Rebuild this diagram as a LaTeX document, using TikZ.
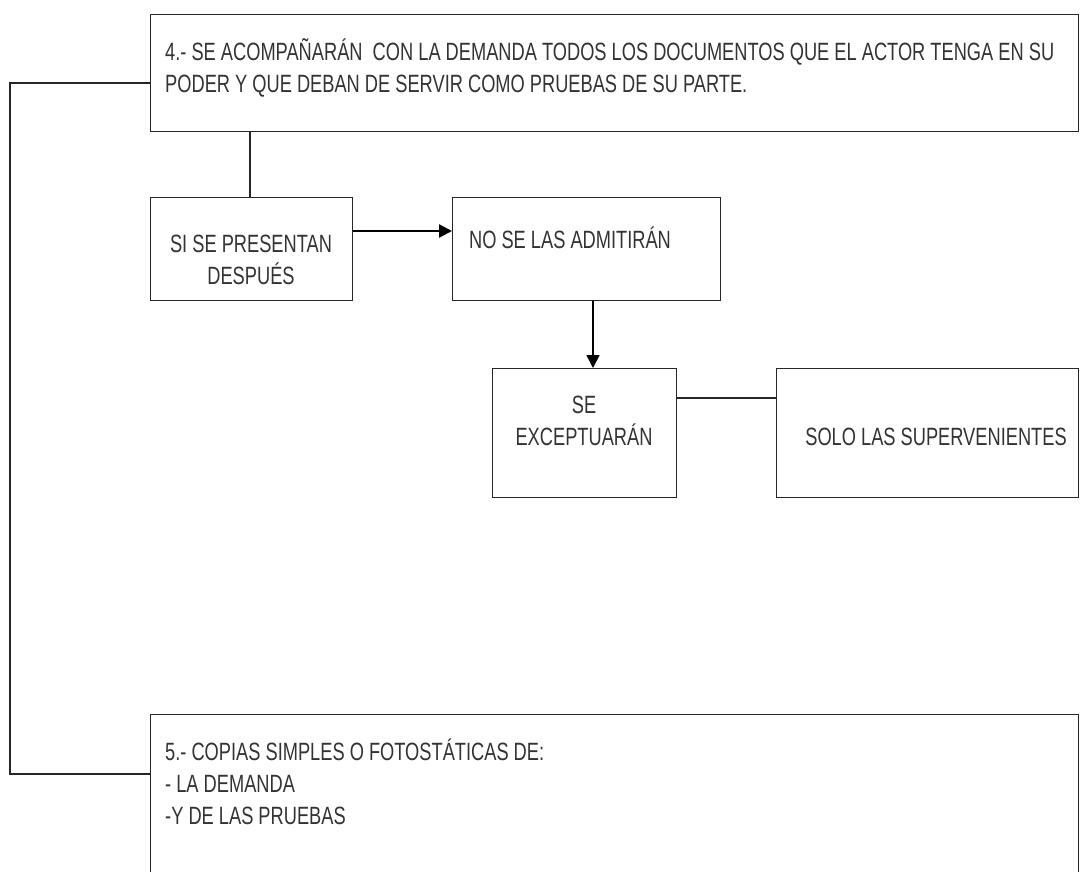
\documentclass[tikz,border=0pt]{standalone}
\usepackage{fontspec}
\setmainfont[FakeStretch=0.73]{Liberation Sans}
\usetikzlibrary{arrows.meta}
\begin{document}
\begin{tikzpicture}[x=1pt,y=-1pt,
  box/.style={draw=black!85, line width=1.3pt, inner sep=0pt, anchor=north west},
  txt/.style={inner sep=0pt, font=\fontsize{25}{32}\selectfont, text=black!80},
  conn/.style={draw=black!85, line width=1.3pt},
  arr/.style={draw=black, line width=2.2pt, -{Triangle[length=13pt,width=13pt]}}]
\useasboundingbox (0,0) rectangle (1081,871);
\clip (0,0) rectangle (1081,871);
% boxes
\node[box, minimum width=928pt, minimum height=117pt] (b1) at (150,14) {};
\node[box, minimum width=202pt, minimum height=103pt] (b2) at (150,197) {};
\node[box, minimum width=268pt, minimum height=103pt] (b3) at (452,197) {};
\node[box, minimum width=184pt, minimum height=129pt] (b4) at (492,368) {};
\node[box, minimum width=302pt, minimum height=129pt] (b5) at (776,368) {};
\node[box, minimum width=928pt, minimum height=170pt] (b6) at (150,714) {};
% texts (anchor base = baseline of last line)
\node[txt, anchor=base west, align=left] (t1) at (165,92) {4.- SE ACOMPAÑARÁN\ \ CON LA DEMANDA TODOS LOS DOCUMENTOS QUE EL ACTOR TENGA EN SU\\PODER Y QUE DEBAN DE SERVIR COMO PRUEBAS\ DE SU\ PARTE.};
\node[txt, anchor=base, align=center] (t2) at (251,284) {SI SE PRESENTAN\\DESPUÉS};
\node[txt, anchor=base] (t3) at (570,248) {NO SE LAS ADMITIRÁN};
\node[txt, anchor=base, align=center] (t4) at (584,445) {SE\\EXCEPTUARÁN};
\node[txt, anchor=base] (t5) at (936,445) {SOLO LAS SUPERVENIENTES};
\node[txt, anchor=base west, align=left] (t6) at (165,824) {5.- COPIAS\ SIMPLES O FOTOSTÁTICAS DE:\\- LA DEMANDA\\-Y DE LAS PRUEBAS};
% connectors
\coordinate (c1) at (250,131);
\draw[conn] (b1.south west -| c1) -- (b2.north west -| c1);
\draw[arr] (b2.east |- 0,231) -- (b3.west |- 0,231);
\draw[arr, line width=1.5pt] (b3.south west -| 593,0) -- (b4.north west -| 593,0);
\draw[conn] (b4.east |- 0,398) -- (b5.west |- 0,398);
\draw[conn] (b1.west |- 0,83) -| (10,774) -- (b6.west |- 0,774);
\end{tikzpicture}
\end{document}
